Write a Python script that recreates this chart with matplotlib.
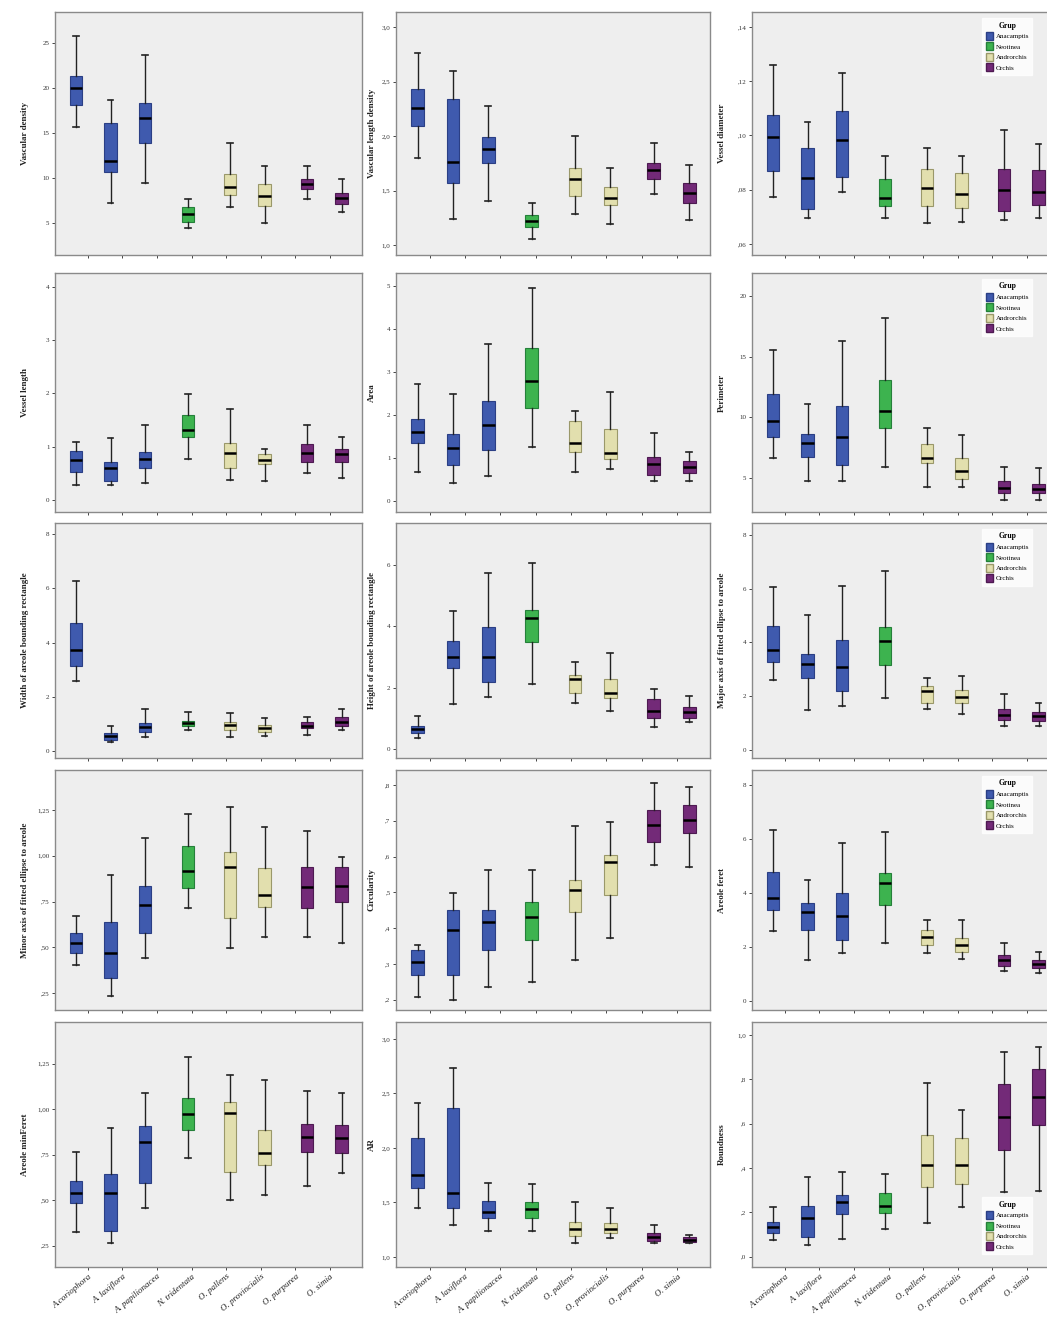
import matplotlib
matplotlib.use("Agg")
import matplotlib.pyplot as plt
from matplotlib.patches import Patch

plt.rcParams['font.family'] = ['Liberation Serif', 'DejaVu Serif']

species = ["A.coriophora", "A. laxiflora", "A. papilionacea", "N. tridentata",
           "O. pallens", "O. provincialis", "O. purpurea", "O. simia"]
species_group = [0, 0, 0, 1, 2, 2, 3, 3]
groups = ["Anacamptis", "Neotinea", "Androrchis", "Orchis"]
group_colors = ["#3F5AAE", "#3DB34F", "#E2DFAE", "#732A78"]
group_edges = ["#2B3F85", "#25803A", "#9A986A", "#4E1A52"]

# (whisker low, Q1, median, Q3, whisker high) for each species
vascular_density = [(15.6, 18.1, 19.9, 21.3, 25.7), (7.2, 10.6, 11.8, 16.1, 18.6),
                    (9.4, 13.8, 16.6, 18.3, 23.6), (4.4, 5.1, 5.9, 6.7, 7.6),
                    (6.7, 8.1, 8.9, 10.4, 13.8), (4.9, 6.8, 8.0, 9.3, 11.3),
                    (7.6, 8.7, 9.3, 9.8, 11.3), (6.2, 7.1, 7.7, 8.3, 9.8)]
vascular_length_density = [(1.80, 2.09, 2.26, 2.43, 2.76), (1.24, 1.57, 1.76, 2.34, 2.60),
                           (1.41, 1.75, 1.88, 1.99, 2.28), (1.06, 1.17, 1.22, 1.28, 1.39),
                           (1.29, 1.45, 1.61, 1.71, 2.00), (1.19, 1.37, 1.43, 1.53, 1.71),
                           (1.47, 1.61, 1.69, 1.75, 1.94), (1.23, 1.39, 1.48, 1.57, 1.74)]
vessel_diameter = [(0.0773, 0.0869, 0.0994, 0.1076, 0.126), (0.0696, 0.0729, 0.0843, 0.0954, 0.105),
                   (0.0792, 0.0847, 0.0983, 0.109, 0.123), (0.0696, 0.0740, 0.0770, 0.0840, 0.0924),
                   (0.0677, 0.0740, 0.0806, 0.0876, 0.0954), (0.0681, 0.0733, 0.0784, 0.0862, 0.0924),
                   (0.0688, 0.0722, 0.0799, 0.0876, 0.102), (0.0696, 0.0744, 0.0792, 0.0873, 0.0969)]
vessel_length = [(0.28, 0.53, 0.75, 0.92, 1.09), (0.28, 0.36, 0.60, 0.71, 1.16),
                 (0.32, 0.60, 0.77, 0.90, 1.41), (0.77, 1.18, 1.31, 1.59, 1.98),
                 (0.38, 0.60, 0.88, 1.07, 1.71), (0.36, 0.68, 0.75, 0.86, 0.96),
                 (0.51, 0.71, 0.88, 1.05, 1.41), (0.41, 0.71, 0.86, 0.96, 1.18)]
area = [(0.67, 1.35, 1.60, 1.91, 2.72), (0.42, 0.84, 1.23, 1.56, 2.49),
        (0.58, 1.19, 1.77, 2.33, 3.65), (1.26, 2.16, 2.79, 3.56, 4.95),
        (0.67, 1.14, 1.35, 1.86, 2.09), (0.74, 0.98, 1.12, 1.67, 2.53),
        (0.47, 0.60, 0.86, 1.02, 1.58), (0.47, 0.65, 0.79, 0.93, 1.14)]
perimeter = [(6.65, 8.4, 9.7, 11.9, 15.55), (4.75, 6.7, 7.9, 8.6, 11.1),
             (4.75, 6.1, 8.4, 10.9, 16.3), (5.9, 9.1, 10.5, 13.1, 18.2),
             (4.3, 6.2, 6.65, 7.8, 9.1), (4.25, 4.9, 5.6, 6.65, 8.55),
             (3.2, 3.8, 4.2, 4.75, 5.9), (3.2, 3.8, 4.1, 4.5, 5.8)]
bounding_width = [(2.58, 3.14, 3.73, 4.72, 6.27), (0.33, 0.41, 0.55, 0.66, 0.92),
                  (0.52, 0.70, 0.89, 1.03, 1.55), (0.77, 0.92, 1.03, 1.11, 1.44),
                  (0.52, 0.77, 0.96, 1.07, 1.40), (0.55, 0.70, 0.85, 0.96, 1.22),
                  (0.59, 0.85, 0.92, 1.07, 1.25), (0.77, 0.92, 1.07, 1.25, 1.55)]
bounding_height = [(0.36, 0.52, 0.65, 0.75, 1.08), (1.47, 2.64, 3.00, 3.52, 4.50),
                   (1.70, 2.18, 3.00, 3.98, 5.74), (2.12, 3.49, 4.27, 4.53, 6.06),
                   (1.50, 1.83, 2.28, 2.41, 2.84), (1.24, 1.66, 1.83, 2.28, 3.13),
                   (0.72, 1.01, 1.24, 1.63, 1.96), (0.88, 1.01, 1.21, 1.37, 1.73)]
major_axis = [(2.60, 3.27, 3.70, 4.60, 6.06), (1.50, 2.68, 3.20, 3.57, 5.00),
              (1.65, 2.20, 3.10, 4.10, 6.10), (1.93, 3.15, 4.05, 4.57, 6.65),
              (1.52, 1.75, 2.20, 2.38, 2.68), (1.34, 1.75, 1.97, 2.23, 2.75),
              (0.90, 1.12, 1.30, 1.52, 2.08), (0.90, 1.08, 1.26, 1.41, 1.75)]
minor_axis = [(0.403, 0.469, 0.523, 0.578, 0.670), (0.234, 0.332, 0.469, 0.638, 0.895),
              (0.441, 0.578, 0.731, 0.835, 1.100), (0.714, 0.824, 0.917, 1.053, 1.230),
              (0.496, 0.660, 0.940, 1.020, 1.266), (0.556, 0.720, 0.786, 0.933, 1.157),
              (0.556, 0.714, 0.829, 0.940, 1.135), (0.523, 0.747, 0.835, 0.940, 0.993)]
circularity = [(0.208, 0.269, 0.306, 0.339, 0.353), (0.200, 0.269, 0.395, 0.451, 0.498),
               (0.236, 0.339, 0.417, 0.451, 0.563), (0.250, 0.367, 0.431, 0.473, 0.563),
               (0.311, 0.445, 0.507, 0.535, 0.685), (0.373, 0.493, 0.585, 0.604, 0.697),
               (0.577, 0.641, 0.688, 0.730, 0.806), (0.571, 0.666, 0.702, 0.744, 0.794)]
areole_feret = [(2.59, 3.37, 3.81, 4.78, 6.33), (1.52, 2.63, 3.30, 3.63, 4.48),
                (1.78, 2.26, 3.15, 4.00, 5.85), (2.15, 3.56, 4.37, 4.74, 6.26),
                (1.78, 2.07, 2.37, 2.63, 3.00), (1.56, 1.81, 2.07, 2.33, 3.00),
                (1.11, 1.30, 1.52, 1.70, 2.15), (1.04, 1.22, 1.37, 1.52, 1.81)]
areole_minferet = [(0.324, 0.484, 0.538, 0.604, 0.764), (0.264, 0.330, 0.538, 0.643, 0.896),
                   (0.456, 0.593, 0.819, 0.907, 1.090), (0.730, 0.885, 0.973, 1.060, 1.286),
                   (0.500, 0.654, 0.978, 1.040, 1.187), (0.527, 0.692, 0.758, 0.885, 1.160),
                   (0.577, 0.764, 0.846, 0.918, 1.100), (0.648, 0.758, 0.840, 0.912, 1.090)]
aspect_ratio = [(1.45, 1.63, 1.75, 2.09, 2.41), (1.29, 1.45, 1.59, 2.37, 2.73),
                (1.24, 1.36, 1.41, 1.51, 1.68), (1.24, 1.36, 1.44, 1.50, 1.67),
                (1.13, 1.19, 1.26, 1.32, 1.50), (1.17, 1.22, 1.26, 1.31, 1.45),
                (1.13, 1.15, 1.18, 1.22, 1.29), (1.13, 1.14, 1.16, 1.18, 1.20)]
roundness = [(0.076, 0.107, 0.134, 0.157, 0.224), (0.053, 0.089, 0.175, 0.229, 0.360),
             (0.080, 0.193, 0.247, 0.278, 0.382), (0.125, 0.197, 0.229, 0.287, 0.373),
             (0.152, 0.314, 0.414, 0.549, 0.783), (0.224, 0.328, 0.414, 0.535, 0.661),
             (0.292, 0.481, 0.630, 0.779, 0.923), (0.296, 0.594, 0.721, 0.847, 0.946)]

# y tick values and labels
ticks_vd = [5, 10, 15, 20, 25]; labels_vd = ["5", "10", "15", "20", "25"]
ticks_vld = [1.0, 1.5, 2.0, 2.5, 3.0]; labels_vld = ["1,0", "1,5", "2,0", "2,5", "3,0"]
ticks_vdi = [0.06, 0.08, 0.10, 0.12, 0.14]; labels_vdi = [",06", ",08", ",10", ",12", ",14"]
ticks_vl = [0, 1, 2, 3, 4]; labels_vl = ["0", "1", "2", "3", "4"]
ticks_ar = [0, 1, 2, 3, 4, 5]; labels_ar = ["0", "1", "2", "3", "4", "5"]
ticks_pe = [5, 10, 15, 20]; labels_pe = ["5", "10", "15", "20"]
ticks_bw = [0, 2, 4, 6, 8]; labels_bw = ["0", "2", "4", "6", "8"]
ticks_bh = [0, 2, 4, 6]; labels_bh = ["0", "2", "4", "6"]
ticks_ma = [0, 2, 4, 6, 8]; labels_ma = ["0", "2", "4", "6", "8"]
ticks_mi = [0.25, 0.50, 0.75, 1.00, 1.25]; labels_mi = [",25", ",50", ",75", "1,00", "1,25"]
ticks_ci = [0.2, 0.3, 0.4, 0.5, 0.6, 0.7, 0.8]; labels_ci = [",2", ",3", ",4", ",5", ",6", ",7", ",8"]
ticks_fe = [0, 2, 4, 6, 8]; labels_fe = ["0", "2", "4", "6", "8"]
ticks_mf = [0.25, 0.50, 0.75, 1.00, 1.25]; labels_mf = [",25", ",50", ",75", "1,00", "1,25"]
ticks_asp = [1.0, 1.5, 2.0, 2.5, 3.0]; labels_asp = ["1,0", "1,5", "2,0", "2,5", "3,0"]
ticks_ro = [0.0, 0.2, 0.4, 0.6, 0.8, 1.0]; labels_ro = [",0", ",2", ",4", ",6", ",8", "1,0"]

panels = [
    ("Vascular density", vascular_density, ticks_vd, labels_vd, (1.4, 28.4)),
    ("Vascular length density", vascular_length_density, ticks_vld, labels_vld, (0.91, 3.14)),
    ("Vessel diameter", vessel_diameter, ticks_vdi, labels_vdi, (0.0559, 0.1455)),
    ("Vessel length", vessel_length, ticks_vl, labels_vl, (-0.23, 4.26)),
    ("Area", area, ticks_ar, labels_ar, (-0.26, 5.30)),
    ("Perimeter", perimeter, ticks_pe, labels_pe, (2.2, 21.9)),
    ("Width of areole bounding rectangle", bounding_width, ticks_bw, labels_bw, (-0.26, 8.41)),
    ("Height of areole bounding rectangle", bounding_height, ticks_bh, labels_bh, (-0.29, 7.37)),
    ("Major axis of fitted ellipse to areole", major_axis, ticks_ma, labels_ma, (-0.30, 8.44)),
    ("Minor axis of fitted ellipse to areole", minor_axis, ticks_mi, labels_mi, (0.157, 1.469)),
    ("Circularity", circularity, ticks_ci, labels_ci, (0.171, 0.842)),
    ("Areole feret", areole_feret, ticks_fe, labels_fe, (-0.33, 8.56)),
    ("Areole minFeret", areole_minferet, ticks_mf, labels_mf, (0.132, 1.478)),
    ("AR", aspect_ratio, ticks_asp, labels_asp, (0.908, 3.156)),
    ("Roundness", roundness, ticks_ro, labels_ro, (-0.046, 1.058)),
]

W, H = 1047, 1324
fig = plt.figure(figsize=(W / 100, H / 100), dpi=100)
fig.patch.set_facecolor("white")

col_left = [55, 396, 752]
col_width = [307, 314, 307]
row_top = [12, 273, 523, 770, 1022]
row_bottom = [255, 512, 758, 1010, 1267]
ylabel_x = [-0.085, -0.065, -0.085]

offsets = [-0.34, -0.11, 0.11, 0.34]

for idx, (name, stats5, yt, ytl, ylim) in enumerate(panels):
    r, c = divmod(idx, 3)
    left = col_left[c] / W
    bottom = 1 - row_bottom[r] / H
    height = (row_bottom[r] - row_top[r]) / H
    ax = fig.add_axes([left, bottom, col_width[c] / W, height])
    ax.set_facecolor("#EEEEEE")
    stats = []
    positions = []
    for i, s in enumerate(stats5):
        stats.append(dict(whislo=s[0], q1=s[1], med=s[2], q3=s[3], whishi=s[4], fliers=[]))
        positions.append(i + offsets[species_group[i]])
    bp = ax.bxp(stats, positions=positions, widths=0.36, patch_artist=True,
                showfliers=False, capwidths=0.16,
                medianprops=dict(color="black", linewidth=1.8),
                whiskerprops=dict(color="#222222", linewidth=1.0),
                capprops=dict(color="#222222", linewidth=1.2),
                boxprops=dict(linewidth=0.8))
    for i, patch in enumerate(bp["boxes"]):
        g = species_group[i]
        patch.set_facecolor(group_colors[g])
        patch.set_edgecolor(group_edges[g])
    ax.set_xlim(-0.95, 7.93)
    ax.set_ylim(*ylim)
    ax.set_yticks(yt)
    ax.set_yticklabels(ytl, fontsize=5, color="#333333")
    ax.set_xticks(range(len(species)))
    if r == 4:
        ax.set_xticklabels(species, rotation=40, ha="right", rotation_mode="anchor",
                           fontsize=6.5, style="italic", color="#222222")
    else:
        ax.set_xticklabels([])
    ax.tick_params(axis="both", length=2.5, width=0.7, color="#444444", pad=1.5)
    for sp in ax.spines.values():
        sp.set_color("#8A8A8A")
        sp.set_linewidth(1.0)
    ax.set_ylabel(name, fontsize=6.5, fontweight="bold", color="#222222")
    ax.yaxis.set_label_coords(ylabel_x[c], 0.5)

    if c == 2:
        handles = [Patch(facecolor=group_colors[g], edgecolor=group_edges[g], label=groups[g])
                   for g in range(4)]
        anchor = (0.75, 0.975) if r < 4 else (0.75, 0.285)
        leg = ax.legend(handles=handles, title="Grup", loc="upper left", bbox_to_anchor=anchor,
                        fontsize=5, title_fontsize=5.5, frameon=True, fancybox=False,
                        handlelength=1.1, handleheight=1.4, handletextpad=0.3,
                        labelspacing=0.35, borderpad=0.5, borderaxespad=0)
        leg.get_frame().set_facecolor("white")
        leg.get_frame().set_edgecolor("white")
        leg.get_title().set_fontweight("bold")

fig.savefig("out.png", dpi=100, facecolor="white")
